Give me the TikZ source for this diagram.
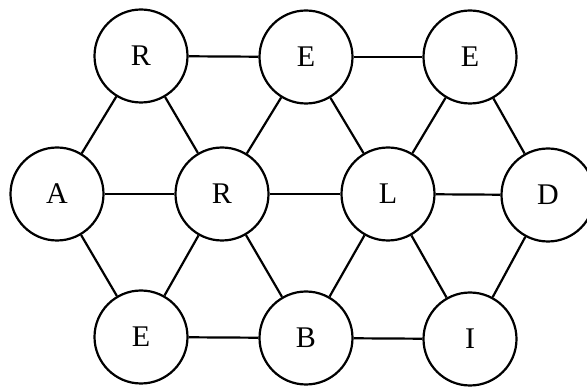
\documentclass[tikz,border=0pt]{standalone}
\usepackage{fontspec}
\setmainfont{Liberation Serif}
\begin{document}
\begin{tikzpicture}[x=1pt,y=-1pt,
  letter/.style={circle,draw,line width=2.2pt,minimum size=93pt,inner sep=0pt,fill=white,font=\fontsize{30}{30}\selectfont},
  link/.style={line width=2.2pt}]
\useasboundingbox (0,0) rectangle (587,387);
\node[letter] (r1) at (141,56) {R};
\node[letter] (e1) at (306,57) {E};
\node[letter] (e2) at (470,57) {E};
\node[letter] (a) at (57,194) {A};
\node[letter] (r2) at (222,194) {R};
\node[letter] (l) at (388,194) {L};
\node[letter] (d) at (548,195) {D};
\node[letter] (e3) at (141,337) {E};
\node[letter] (b) at (306,338) {B};
\node[letter] (i) at (470,339) {I};
\begin{scope}[link]
\draw (r1) -- (e1);
\draw (e1) -- (e2);
\draw (a) -- (r2);
\draw (r2) -- (l);
\draw (l) -- (d);
\draw (e3) -- (b);
\draw (b) -- (i);
\draw (r1) -- (a);
\draw (r1) -- (r2);
\draw (e1) -- (r2);
\draw (e1) -- (l);
\draw (e2) -- (l);
\draw (e2) -- (d);
\draw (a) -- (e3);
\draw (r2) -- (e3);
\draw (r2) -- (b);
\draw (l) -- (b);
\draw (l) -- (i);
\draw (d) -- (i);
\end{scope}
\end{tikzpicture}
\end{document}
